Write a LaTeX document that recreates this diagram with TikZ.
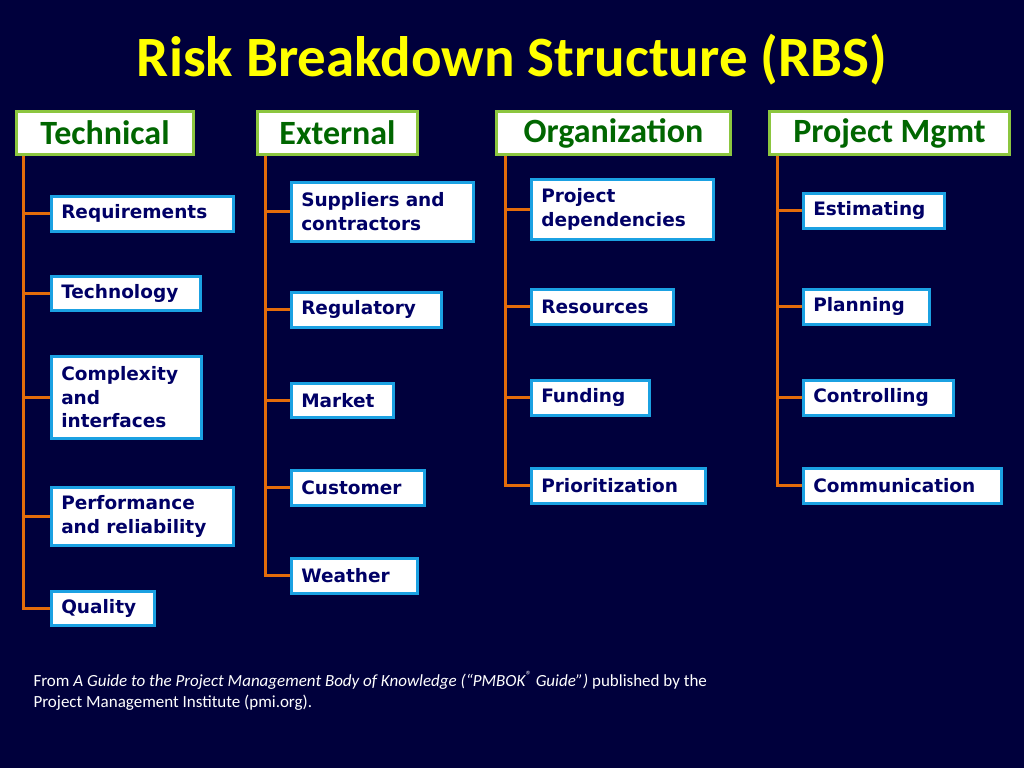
\documentclass[tikz,border=0pt]{standalone}
\usepackage{fontspec}
\setmainfont{Carlito}
\newfontfamily\vfont{DejaVu Sans}
\usetikzlibrary{calc}
\definecolor{bg}{HTML}{00003C}
\definecolor{ttl}{HTML}{FFFF00}
\definecolor{hgreen}{HTML}{8CC63F}
\definecolor{htext}{HTML}{006600}
\definecolor{cblue}{HTML}{1BA1E2}
\definecolor{ctext}{HTML}{000066}
\definecolor{lorange}{HTML}{E46C0A}
\tikzset{
 hdr/.style={draw=hgreen,line width=3pt,fill=white,anchor=north west,minimum height=43pt,inner sep=0pt,font=\fontsize{34}{36}\selectfont\bfseries,text=htext},
 child/.style={draw=cblue,line width=2.5pt,fill=white,anchor=north west,inner xsep=10pt,inner ysep=4pt,align=left,font=\vfont\fontsize{18.5}{23.5}\selectfont\bfseries,text=ctext},
 cw/.style={text width=#1pt-20pt},
 br/.style={draw=lorange,line width=3pt}
}
\begin{document}
\begin{tikzpicture}[x=1pt,y=-1pt]
\fill[bg] (0,0) rectangle (1024,768);
\useasboundingbox (0,0) rectangle (1024,768);
\node[text=ttl,font=\fontsize{57}{60}\selectfont\bfseries] (title) at (512,60) {Risk Breakdown Structure (RBS)};
% headers
\node[hdr,minimum width=177pt] (h1) at (15,110) {Technical};
\node[hdr,minimum width=160pt] (h2) at (256,110) {External};
\node[hdr,minimum width=234pt] (h3) at (495,110) {Organization};
\node[hdr,minimum width=240pt] (h4) at (768,110) {Project Mgmt};
% Technical
\node[child,cw=182,minimum height=35pt] (a1) at (50,195) {Requirements};
\node[child,cw=149,minimum height=34pt] (a2) at (50,275) {Technology};
\node[child,cw=150,minimum height=82pt] (a3) at (50,355) {Complexity\\and\\interfaces};
\node[child,cw=182,minimum height=58pt] (a4) at (50,486) {Performance\\and reliability};
\node[child,cw=103,minimum height=34pt] (a5) at (50,590) {Quality};
% External
\node[child,cw=182,minimum height=59pt] (b1) at (290,181) {Suppliers and\\contractors};
\node[child,cw=150,minimum height=35pt] (b2) at (290,291) {Regulatory};
\node[child,cw=102,minimum height=34pt] (b3) at (290,382) {Market};
\node[child,cw=133,minimum height=35pt] (b4) at (290,469) {Customer};
\node[child,cw=126,minimum height=35pt] (b5) at (290,557) {Weather};
% Organization
\node[child,cw=182,minimum height=60pt] (c1) at (530,178) {Project\\dependencies};
\node[child,cw=142,minimum height=35pt] (c2) at (530,288) {Resources};
\node[child,cw=118,minimum height=35pt] (c3) at (530,379) {Funding};
\node[child,cw=174,minimum height=35pt] (c4) at (530,467) {Prioritization};
% Project Mgmt
\node[child,cw=141,minimum height=35pt] (d1) at (802,192) {Estimating};
\node[child,cw=126,minimum height=35pt] (d2) at (802,288) {Planning};
\node[child,cw=150,minimum height=35pt] (d3) at (802,379) {Controlling};
\node[child,cw=198,minimum height=35pt] (d4) at (802,467) {Communication};
% connectors
\foreach \h/\dx/\list in {h1/8/{a1,a2,a3,a4,a5},h2/9/{b1,b2,b3,b4,b5},h3/10/{c1,c2,c3,c4},h4/9/{d1,d2,d3,d4}}{
  \foreach \c in \list { \draw[br] ($(\h.south west)+(\dx,0)$) |- (\c.west); }
}
% footer
\node[anchor=north west,align=left,text=white,font=\fontsize{17}{21}\selectfont] (foot) at (30,668)
 {From \textit{A Guide to the Project Management Body of Knowledge (“PMBOK\textsuperscript{®} Guide”)} published by the\\Project Management Institute (pmi.org).};
\end{tikzpicture}
\end{document}
